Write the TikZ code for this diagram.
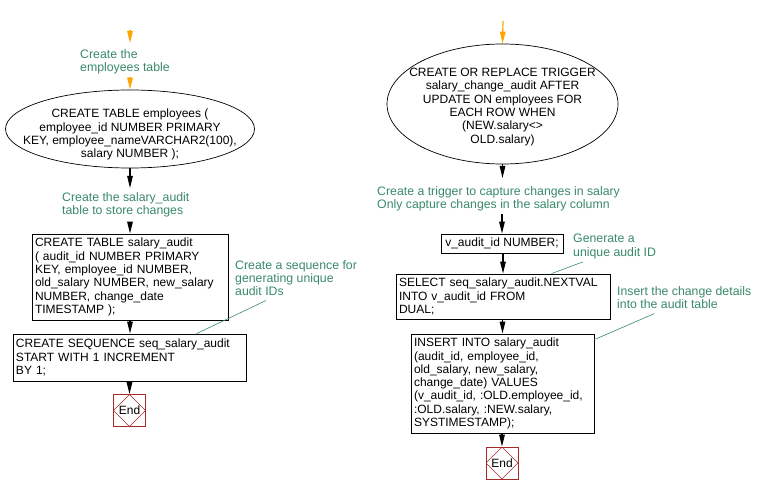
\documentclass[tikz,border=0pt]{standalone}
\usepackage{fontspec}
\setmainfont{Liberation Sans}
\usetikzlibrary{arrows.meta,calc,shapes.geometric}
\definecolor{lab}{RGB}{58,138,106}
\definecolor{endred}{RGB}{165,42,42}
\definecolor{org}{RGB}{255,165,0}
\begin{document}
\begin{tikzpicture}[x=1pt,y=-1pt,
 every node/.style={font=\fontsize{12}{13.3}\selectfont},
 box/.style={draw, line width=0.8pt, align=left, inner xsep=3pt, inner ysep=0pt},
 ell/.style={draw, ellipse, line width=0.7pt, align=center, inner xsep=-40pt, inner ysep=-15pt},
 lbl/.style={text=lab, align=left, inner sep=0pt, anchor=north west, font=\fontsize{12.3}{13.3}\selectfont},
 arr/.style={-{Triangle[width=5.5pt,length=12pt]}, line width=1.2pt},
 oarr/.style={arr, draw=org, color=org},
 note/.style={draw=lab, line width=0.6pt},
 endbox/.style={draw=endred, line width=0.8pt, minimum width=32pt, minimum height=32pt, inner sep=0pt,
   path picture={\draw[endred, line width=0.5pt] (path picture bounding box.north) -- (path picture bounding box.east) -- (path picture bounding box.south) -- (path picture bounding box.west) -- cycle;}}
]
\fill[white] (0,0) rectangle (763,494);
\useasboundingbox (0,0) rectangle (763,494);

% ---- left column
\coordinate (s1) at (130,30);
\node[lbl] (L1) at (80,49) {Create the\\employees table};
\node[ell, minimum width=249pt, minimum height=78pt] (e1) at (130,129)
  {\rule{0pt}{20pt}CREATE TABLE employees (\\employee\_id NUMBER PRIMARY\\KEY, employee\_nameVARCHAR2(100),\\salary NUMBER );};
\node[lbl] (L2) at (62,192) {Create the salary\_audit\\table to store changes};
\node[box, text width=190pt, minimum height=86pt] (b1) at (130,277)
  {CREATE TABLE salary\_audit\\( audit\_id NUMBER PRIMARY\\KEY, employee\_id NUMBER,\\old\_salary NUMBER, new\_salary\\NUMBER, change\_date\\TIMESTAMP );};
\node[lbl] (L3) at (235,260) {Create a sequence for\\generating unique\\audit IDs};
\node[box, text width=227pt, minimum height=47pt] (b2) at (129.5,357.5)
  {CREATE SEQUENCE seq\_salary\_audit\\START WITH 1 INCREMENT\\BY 1;};
\node[endbox] (end1) at (129.5,410.5) {End};

\draw[oarr, shorten >=6pt] (s1) -- (s1 |- L1.north);
\draw[oarr, shorten <=3pt] (e1.north |- L1.south) -- (e1.north);
\draw[arr, shorten >=4pt] (e1.south) -- (e1.south |- L2.north);
\draw[arr, shorten <=5pt] (b1.north |- L2.south) -- (b1.north);
\draw[arr] (b1.south) -- (b1.south |- b2.north);
\draw[arr] (b2.south -| end1.north) -- (end1.north);
\draw[note] ($(L3.south west)+(31,4.5)$) -- ($(b2.north west)+(184,0)$);

% ---- right column
\coordinate (s2) at (503,21);
\node[ell, minimum width=231pt, minimum height=120pt] (e2) at (502.5,104)
  {\rule{0pt}{14pt}CREATE OR REPLACE TRIGGER\\salary\_change\_audit AFTER\\UPDATE ON employees FOR\\EACH ROW WHEN\\(NEW.salary<>\\OLD.salary)};
\node[lbl] (R1) at (377,186) {Create a trigger to capture changes in salary\\Only capture changes in the salary column};
\node[box, align=center, minimum width=122pt, minimum height=19pt] (vb) at (502,243.5) {v\_audit\_id NUMBER;};
\node[lbl] (R2) at (573,234) {Generate a\\unique audit ID};
\node[box, text width=208pt, minimum height=45pt] (sel) at (503,296.5)
  {SELECT seq\_salary\_audit.NEXTVAL\\INTO v\_audit\_id FROM\\DUAL;};
\node[lbl] (R3) at (617,286) {Insert the change details\\into the audit table};
\node[box, text width=177pt, minimum height=99pt] (ins) at (502.5,383.5)
  {INSERT INTO salary\_audit\\(audit\_id, employee\_id,\\old\_salary, new\_salary,\\change\_date) VALUES\\(v\_audit\_id, :OLD.employee\_id,\\:OLD.salary, :NEW.salary,\\SYSTIMESTAMP);};
\node[endbox] (end2) at (502,463) {End};

\draw[oarr] (s2) -- (e2.north);
\draw[arr, shorten >=8pt] (e2.south) -- (e2.south |- R1.north);
\draw[arr, shorten <=3pt] (vb.north |- R1.south) -- (vb.north);
\draw[arr] (vb.south -| sel.north) -- (sel.north);
\draw[arr] (sel.south -| ins.north) -- (ins.north);
\draw[arr] (ins.south -| end2.north) -- (end2.north);
\draw[note] ($(R2.south west)+(10,3)$) -- ($(sel.north west)+(156,0)$);
\draw[note] ($(R3.south west)+(37,5)$) -- ($(ins.north east)+(0,6)$);
\end{tikzpicture}
\end{document}
